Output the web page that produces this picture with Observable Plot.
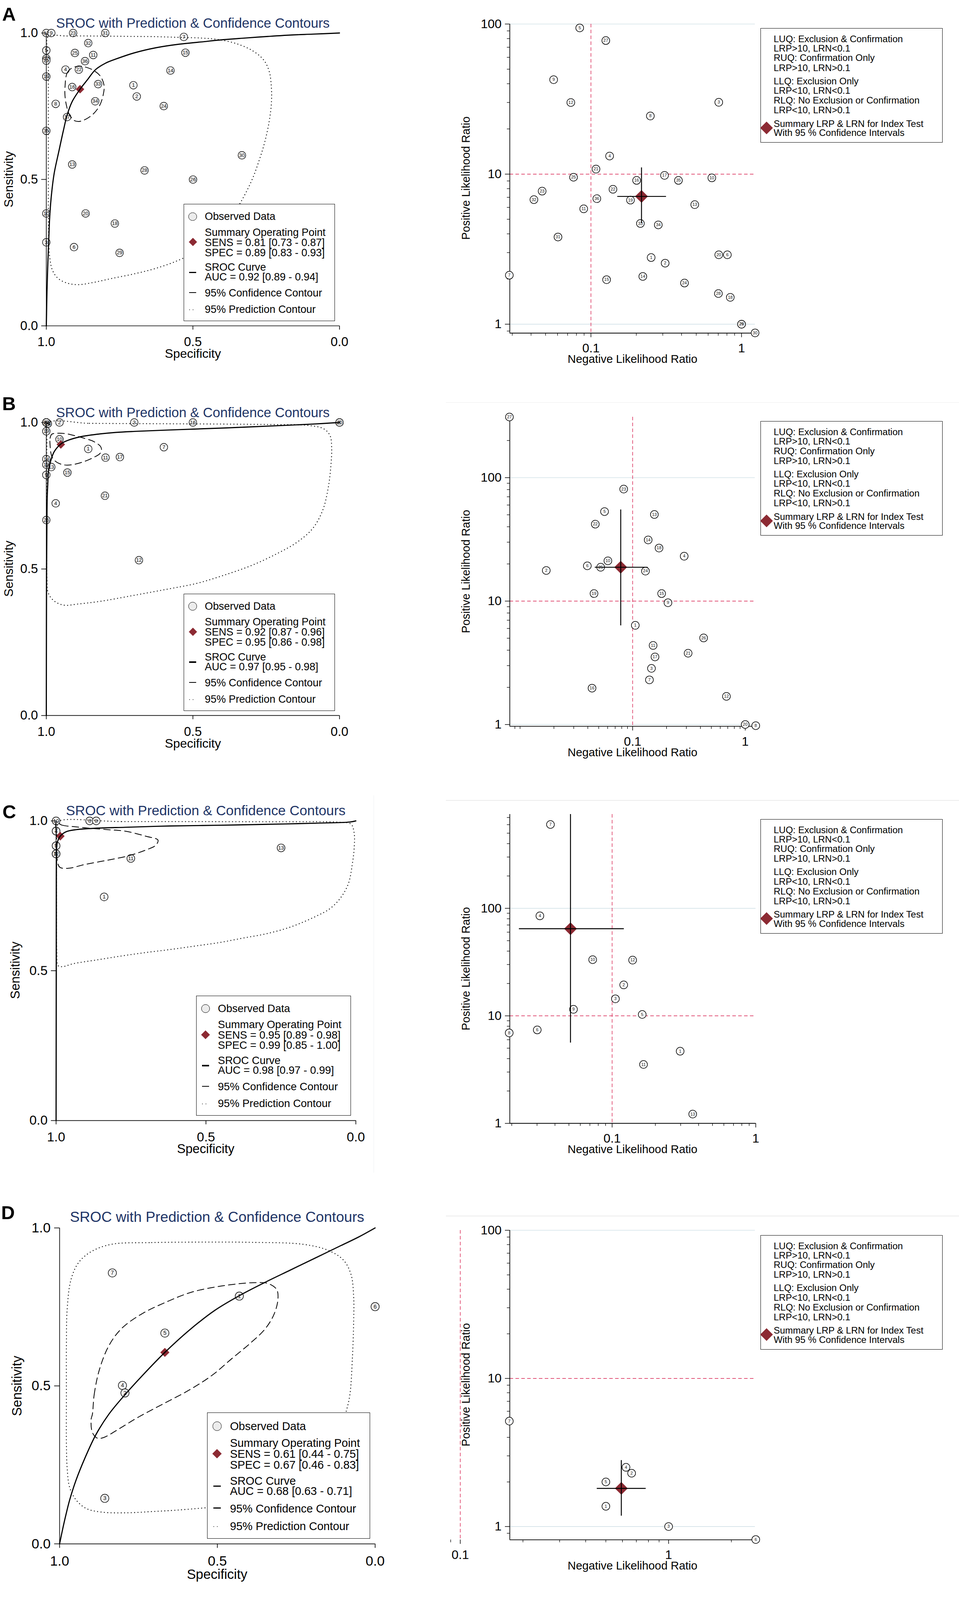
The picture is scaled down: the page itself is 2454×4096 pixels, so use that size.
<!DOCTYPE html>
<html><head><meta charset="utf-8">
<script src="https://cdn.jsdelivr.net/npm/d3@7"></script>
<script src="https://cdn.jsdelivr.net/npm/@observablehq/plot@0.6"></script>
<style>
html,body{margin:0;padding:0;background:#fff;}
#root{position:relative;width:2454px;height:4096px;overflow:hidden;background:#fff;font-family:"Liberation Sans",Arial,Helvetica,sans-serif;}
.t{position:absolute;white-space:nowrap;line-height:1;}
svg{overflow:visible;}
</style></head><body><div id="root"></div>
<script>
// ---------------- DATA ----------------
const srocTicks = [1, 0.5, 0];
const titleText = "SROC with Prediction & Confidence Contours";

// Panel A (left): [study, specificity, sensitivity]
const ptsA = [[12,1.0,1.0],[9,0.983,1.0],[23,0.9086,1.0],[31,0.799,1.0],[7,0.531,0.9867],[32,0.857,0.9656],[5,1.0,0.9406],[25,0.9025,0.932],[11,0.84,0.925],[15,0.5255,0.9328],[27,1.0,0.9127],[21,1.0,0.9057],[36,0.868,0.904],[4,0.9345,0.875],[22,0.889,0.875],[14,0.5765,0.872],[19,1.0,0.8514],[33,0.8233,0.8256],[1,0.703,0.8217],[16,0.9117,0.8155],[2,0.6915,0.7834],[34,0.8332,0.767],[8,0.968,0.758],[24,0.5994,0.7506],[17,0.9292,0.713],[35,1.0,0.666],[30,0.3328,0.5825],[13,0.9117,0.5512],[28,0.6649,0.5309],[26,0.4996,0.4996],[10,1.0,0.3839],[20,0.866,0.3839],[18,0.7662,0.3495],[3,1.0,0.2854],[6,0.9056,0.269],[29,0.75,0.2494]];
const sumA = [0.885, 0.808];
const curveA = [[1.0,0.0],[0.9992,0.0391],[0.9977,0.1173],[0.9954,0.1955],[0.9924,0.2737],[0.9886,0.369],[0.9825,0.4472],[0.9733,0.52],[0.957,0.597],[0.9415,0.668],[0.929,0.72],[0.912,0.7655],[0.885,0.808],[0.86,0.84],[0.8325,0.8746],[0.798,0.897],[0.763,0.911],[0.7007,0.932],[0.6245,0.95],[0.5484,0.9617],[0.4722,0.9695],[0.396,0.9773],[0.322,0.9828],[0.2437,0.9883],[0.1675,0.993],[0.0914,0.9961],[0.0,1.0]];
const confA = [[0.9363,0.8139],[0.9294,0.8624],[0.9138,0.8798],[0.8879,0.8866],[0.8671,0.8839],[0.8394,0.8728],[0.8152,0.852],[0.803,0.8209],[0.8065,0.7863],[0.8186,0.7516],[0.8394,0.7239],[0.8671,0.7048],[0.8879,0.698],[0.9052,0.7014],[0.9224,0.7239],[0.9311,0.7516],[0.9363,0.7863]];
const predA = [[0.994,0.9867],[0.9292,0.9898],[0.853,0.9898],[0.7768,0.9891],[0.7007,0.9883],[0.6245,0.9875],[0.5484,0.9851],[0.4722,0.9828],[0.4113,0.9773],[0.3503,0.9633],[0.297,0.9398],[0.259,0.9085],[0.2399,0.8694],[0.2323,0.8147],[0.2323,0.76],[0.2399,0.6974],[0.2551,0.6271],[0.2742,0.5645],[0.297,0.502],[0.3275,0.4394],[0.3656,0.3769],[0.4189,0.3143],[0.4798,0.2596],[0.5484,0.2244],[0.6245,0.197],[0.7007,0.1775],[0.7768,0.1619],[0.8378,0.1486],[0.8911,0.1407],[0.9292,0.1462],[0.9596,0.1619],[0.9787,0.1892],[0.9886,0.2361],[0.9925,0.3299],[0.993,0.4863],[0.993,0.6427],[0.993,0.7991],[0.993,0.9163]];
const legA = ["SENS = 0.81 [0.73 - 0.87]", "SPEC = 0.89 [0.83 - 0.93]", "AUC = 0.92 [0.89 - 0.94]"];

// Panel B (left)
const ptsB = [[27,1.0,1.0],[5,1.0,1.0],[6,1.0,1.0],[22,1.0,1.0],[25,0.995,0.996],[24,0.995,0.996],[23,1.0,1.0],[2,0.955,1.0],[3,0.7,1.0],[16,0.5,1.0],[8,0.0,1.0],[20,0.0,1.0],[19,1.0,0.97],[10,0.955,0.9426],[1,0.857,0.9097],[7,0.599,0.9156],[11,0.798,0.88],[17,0.749,0.882],[14,1.0,0.875],[18,1.0,0.856],[13,0.983,0.848],[15,0.928,0.829],[9,1.0,0.821],[21,0.8,0.75],[4,0.968,0.724],[26,1.0,0.667],[12,0.684,0.53]];
const sumB = [0.9505, 0.925];
const curveB = [[1,0],[0.9995,0.3],[0.999,0.5],[0.998,0.65],[0.997,0.74],[0.995,0.79],[0.9924,0.835],[0.9847,0.87],[0.9727,0.901],[0.95,0.927],[0.929,0.938],[0.8844,0.951],[0.8255,0.96],[0.763,0.966],[0.7,0.9695],[0.548,0.9755],[0.396,0.981],[0.2436,0.9875],[0.0913,0.9945],[0,1]];
const confB = [[0.9865,0.9148],[0.9872,0.946],[0.9813,0.9598],[0.9605,0.9633],[0.9328,0.9616],[0.9017,0.9546],[0.8705,0.946],[0.8394,0.9356],[0.8152,0.9183],[0.8117,0.9045],[0.8186,0.8923],[0.8394,0.8803],[0.8671,0.8681],[0.9017,0.8577],[0.9294,0.8543],[0.9502,0.8577],[0.9675,0.8664],[0.9795,0.8803],[0.9847,0.8975]];
const predB = [[0.9939,0.9977],[0.853,0.9969],[0.7007,0.9961],[0.5484,0.9953],[0.396,0.9945],[0.2437,0.993],[0.1066,0.9898],[0.0533,0.9781],[0.032,0.9547],[0.0267,0.9117],[0.029,0.857],[0.0381,0.7789],[0.0571,0.7008],[0.0914,0.6383],[0.1447,0.5914],[0.2133,0.5523],[0.297,0.5133],[0.396,0.4781],[0.4874,0.4508],[0.5864,0.4313],[0.7007,0.4102],[0.8149,0.3898],[0.8911,0.3805],[0.9406,0.3766],[0.9749,0.3922],[0.9939,0.4195],[0.9977,0.4664],[0.9985,0.6227],[0.9985,0.7789],[0.9977,0.9352]];
const legB = ["SENS = 0.92 [0.87 - 0.96]", "SPEC = 0.95 [0.86 - 0.98]", "AUC = 0.97 [0.95 - 0.98]"];

// Panel C (left)
const ptsC = [[5,1.0,0.89],[12,1.0,0.89],[2,1.0,0.89],[3,1.0,0.917],[9,1.0,0.917],[4,1.0,0.966],[7,1.0,0.966],[10,1.0,1.0],[6,0.888,1.0],[8,0.866,1.0],[11,0.7506,0.8747],[1,0.8397,0.7464],[13,0.2494,0.9099]];
const sumC = [0.986, 0.949];
const curveC = [[1,0],[0.9992,0.5],[0.999,0.8],[0.9985,0.87],[0.9966,0.9252],[0.9865,0.9488],[0.9662,0.964],[0.9324,0.9709],[0.8917,0.9742],[0.8443,0.9766],[0.7699,0.9787],[0.6195,0.9831],[0.4576,0.9855],[0.2957,0.9885],[0.1337,0.9924],[0.0203,0.9962],[0,1]];
const confC = [[0.9992,0.9962],[0.9814,0.9861],[0.9425,0.981],[0.8917,0.9759],[0.8277,0.9708],[0.7698,0.9658],[0.7005,0.9488],[0.66,0.9358],[0.6681,0.9182],[0.7005,0.9029],[0.7572,0.8838],[0.83,0.8686],[0.9029,0.8548],[0.9596,0.8418],[0.9879,0.8456],[0.996,0.8686],[0.9984,0.9069],[0.9992,0.9526]];
const predC = [[0.9919,0.9985],[0.7814,0.9977],[0.5385,0.9977],[0.2955,0.9969],[0.0526,0.9954],[0.0162,0.9893],[0.0057,0.9603],[0.0057,0.9068],[0.0121,0.8533],[0.0243,0.7922],[0.0486,0.7464],[0.085,0.7082],[0.1336,0.6814],[0.2146,0.6471],[0.2955,0.6241],[0.3765,0.6089],[0.4575,0.5936],[0.5385,0.5821],[0.6194,0.5707],[0.7004,0.5607],[0.7814,0.5493],[0.8623,0.5363],[0.9433,0.5233],[0.9798,0.5134],[0.9935,0.5172],[0.9976,0.563],[0.9984,0.7158],[0.9984,0.8686],[0.996,0.9832]];
const legC = ["SENS = 0.95 [0.89 - 0.98]", "SPEC = 0.99 [0.85 - 1.00]", "AUC = 0.98 [0.97 - 0.99]"];

// Panel D (left)
const ptsD = [[7,0.8328,0.8576],[1,0.4304,0.7841],[6,0.0,0.7508],[5,0.6664,0.6672],[4,0.8008,0.5015],[2,0.7928,0.4776],[3,0.8568,0.144]];
const sumD = [0.6664, 0.606];
const curveD = [[1,0],[0.992,0.0387],[0.9816,0.0851],[0.968,0.1393],[0.948,0.2012],[0.92,0.2709],[0.8856,0.3444],[0.844,0.4102],[0.7928,0.4721],[0.74,0.5302],[0.6664,0.606],[0.588,0.6772],[0.508,0.7392],[0.4304,0.7856],[0.348,0.8282],[0.268,0.8669],[0.188,0.9056],[0.108,0.9443],[0.052,0.9714],[0,1]];
const confD = [[0.896,0.4102],[0.8904,0.4721],[0.8744,0.5495],[0.844,0.6269],[0.804,0.6811],[0.74,0.7276],[0.66,0.7663],[0.58,0.7972],[0.484,0.8166],[0.388,0.8266],[0.34,0.8243],[0.312,0.805],[0.308,0.774],[0.32,0.7276],[0.348,0.6811],[0.396,0.6347],[0.452,0.5882],[0.516,0.5341],[0.588,0.4876],[0.668,0.445],[0.748,0.4025],[0.812,0.3638],[0.86,0.3367],[0.88,0.3344],[0.896,0.3522],[0.9,0.3947]];
const predD = [[0.836,0.9481],[0.708,0.9536],[0.548,0.9551],[0.388,0.9543],[0.228,0.9481],[0.148,0.9288],[0.1,0.8978],[0.076,0.8514],[0.068,0.7817],[0.068,0.7043],[0.072,0.5882],[0.08,0.4721],[0.092,0.418],[0.124,0.3173],[0.188,0.2245],[0.308,0.1548],[0.428,0.1238],[0.532,0.1146],[0.628,0.1068],[0.708,0.1022],[0.788,0.0983],[0.868,0.1006],[0.916,0.1122],[0.948,0.1393],[0.968,0.178],[0.976,0.2399],[0.9784,0.3173],[0.9784,0.4721],[0.9784,0.6269],[0.976,0.743],[0.964,0.8359],[0.94,0.8901],[0.9,0.9249]];
const legD = ["SENS = 0.61 [0.44 - 0.75]", "SPEC = 0.67 [0.46 - 0.83]", "AUC = 0.68 [0.63 - 0.71]"];

// Likelihood-ratio scatter: [study, LRN, LRP]
const lrA = [[5,0.0842,94.2],[27,0.1255,77.6],[9,0.0565,42.6],[12,0.0735,30.0],[3,0.706,30.1],[8,0.248,24.4],[4,0.133,13.2],[21,0.108,10.8],[25,0.0766,9.53],[17,0.308,9.81],[16,0.201,9.08],[35,0.381,9.08],[10,0.635,9.44],[22,0.14,7.92],[23,0.0474,7.7],[32,0.0418,6.76],[36,0.1094,6.86],[19,0.183,6.71],[13,0.489,6.26],[11,0.0895,5.87],[33,0.213,4.69],[34,0.28,4.59],[31,0.0604,3.81],[1,0.251,2.78],[2,0.311,2.55],[20,0.706,2.9],[6,0.805,2.9],[7,0.0287,2.12],[15,0.127,1.98],[14,0.221,2.08],[24,0.418,1.88],[28,0.702,1.6],[18,0.842,1.51],[29,1.0,1.0],[26,1.0,1.0],[30,1.23,0.875]];
const lrSumA = [0.2166, 7.10, 0.150, 0.316, 4.71, 11.05]; // LRN, LRP, LRN lo, LRN hi, LRP lo, LRP hi
const lrB = [[27,0.00805,310],[23,0.0833,80.8],[5,0.0563,53.1],[13,0.156,50.3],[22,0.0466,42.0],[14,0.1374,31.3],[18,0.1716,26.9],[4,0.287,23.1],[10,0.0603,21.2],[6,0.0396,19.3],[25,0.052,18.8],[2,0.0171,17.7],[24,0.13,17.5],[19,0.0454,11.5],[15,0.181,11.5],[9,0.206,9.7],[1,0.1056,6.36],[26,0.427,5.03],[11,0.152,4.37],[21,0.311,3.78],[17,0.158,3.53],[3,0.147,2.85],[7,0.141,2.3],[16,0.0436,1.97],[12,0.681,1.69],[20,1.0,1.0],[8,1.24,0.979]];
const lrSumB = [0.0784, 18.8, 0.0463, 0.1364, 6.33, 55.0];
const lrC = [[7,0.0372,602],[4,0.0314,85.1],[10,0.0732,33.3],[12,0.1389,33.0],[2,0.1204,19.4],[3,0.1054,14.4],[9,0.0538,11.5],[5,0.162,10.3],[6,0.0301,7.4],[8,0.0192,6.94],[1,0.2976,4.69],[11,0.1654,3.53],[13,0.364,1.22]];
const lrSumC = [0.0513, 64.6, 0.0225, 0.121, 5.62, 750];
const lrD = [[7,0.172,5.15],[4,0.6245,2.51],[2,0.6645,2.29],[5,0.5,2.0],[1,0.5,1.37],[3,1.0,1.0],[6,2.62,0.817]];
const lrSumD = [0.593, 1.81, 0.453, 0.778, 1.18, 2.80];

const lrMajorX = [0.1, 1];
const lrMajorY = [1, 10, 100];
const lrGrid = [1, 100];
const lrRefX = [0.1], lrRefY = [10];
const lrLegend = [["LUQ: Exclusion & Confirmation",35.3],["LRP>10, LRN<0.1",66.2],["RUQ: Confirmation Only",97.8],["LRP>10, LRN>0.1",130.1],["LLQ: Exclusion Only",173.8],["LRP<10, LRN<0.1",205.4],["RLQ: No Exclusion or Confirmation",237],["LRP<10, LRN>0.1",269.3],["Summary LRP & LRN for Index Test",313.7],["With 95 % Confidence Intervals",343.8]];

// ---------------- RENDERING ----------------
const S = 2454 / 3150;
const root = document.getElementById("root");
const NAVY = "#1e3466", RED = "#d8204f", MAROON = "#8c2a33", GRID = "#d3e2e8";
const FONT = '"Liberation Sans", Arial, Helvetica, sans-serif';

function txt(s, x, y, size, o = {}) {
  const d = document.createElement("div");
  d.className = "t";
  d.textContent = s;
  d.style.left = (x * S) + "px";
  d.style.top = (y * S) + "px";
  d.style.fontSize = (size * S) + "px";
  d.style.color = o.color || "#000";
  if (o.weight) d.style.fontWeight = o.weight;
  const tx = o.anchor === "start" ? "0%" : o.anchor === "end" ? "-100%" : "-50%";
  d.style.transform = `translate(${tx},-50%)` + (o.rotate ? ` rotate(${o.rotate}deg)` : "");
  root.appendChild(d);
}
function rect(x, y, w, h, o = {}) {
  const d = document.createElement("div");
  d.style.position = "absolute";
  d.style.left = (x * S) + "px"; d.style.top = (y * S) + "px";
  d.style.width = (w * S) + "px"; d.style.height = (h * S) + "px";
  d.style.boxSizing = "border-box";
  if (o.border) d.style.border = o.border;
  if (o.bg) d.style.background = o.bg;
  if (o.radius) d.style.borderRadius = o.radius;
  if (o.rotate) d.style.transform = `rotate(${o.rotate}deg)`;
  root.appendChild(d);
  return d;
}
function diamondSym(cx, cy, diag) {
  const side = diag / Math.SQRT2;
  rect(cx - side / 2, cy - side / 2, side, side, {bg: MAROON, rotate: 45});
}
function place(el, x, y) {
  el.style.position = "absolute";
  el.style.left = x + "px";
  el.style.top = y + "px";
  root.appendChild(el);
}
const xy = (a) => a.map(([x, y]) => ({x, y}));

function leftPanel(c) {
  const k = (c.x1 - c.x0) / 963;
  const W = (c.x1 - c.x0) * S, H = (c.y1 - c.y0) * S;
  const mL = 110, mR = 30, mT = 30, mB = 90;
  const pts = c.pts.map(([id, x, y]) => ({id: String(id), x, y}));
  const fs = 42 * k * S;
  const svg = Plot.plot({
    width: W + mL + mR, height: H + mT + mB,
    marginLeft: mL, marginRight: mR, marginTop: mT, marginBottom: mB,
    x: {type: "linear", domain: [1, 0], axis: null},
    y: {type: "linear", domain: [0, 1], axis: null},
    style: {fontFamily: FONT, fontSize: fs + "px", color: "#000", background: "transparent", overflow: "visible"},
    marks: [
      Plot.dot(pts, {x: "x", y: "y", r: 9.8 * k, fill: "#f3f3f3", stroke: "#000", strokeWidth: 1.4}),
      Plot.text(pts, {x: "x", y: "y", text: "id", fontSize: 13.2 * k, fill: "#111"}),
      Plot.dot([c.summary], {x: d => d[0], y: d => d[1], symbol: "diamond2", r: 9.8 * k, fill: MAROON}),
      Plot.line(xy(c.pred), {x: "x", y: "y", curve: "catmull-rom-closed", stroke: "#111", strokeWidth: 2.6, strokeDasharray: "0.1,8.5", strokeLinecap: "round"}),
      Plot.line(xy(c.conf), {x: "x", y: "y", curve: "catmull-rom-closed", stroke: "#000", strokeWidth: 2.0, strokeDasharray: "17,10"}),
      Plot.line(xy(c.curve), {x: "x", y: "y", curve: "catmull-rom", stroke: "#000", strokeWidth: 2.9}),
      Plot.ruleX([1], {stroke: "#000", strokeWidth: 1.7}),
      Plot.ruleY([0], {stroke: "#000", strokeWidth: 1.7}),
      Plot.axisX({anchor: "bottom", ticks: srocTicks, tickFormat: d3.format(".1f"), tickSize: 10 * k, tickPadding: 18.9 * k, fontSize: fs, label: null, strokeWidth: 1.7}),
      Plot.axisY({anchor: "left", ticks: srocTicks, tickFormat: d3.format(".1f"), tickSize: 12.5 * k, tickPadding: 8.8 * k, fontSize: fs, label: null, strokeWidth: 1.7})
    ]
  });
  place(svg, c.x0 * S - mL, c.y0 * S - mT);

  const cx = (c.x0 + c.x1) / 2, cy = (c.y0 + c.y1) / 2;
  txt(titleText, cx, c.y0 - 32.4 * k, 44.3 * k, {color: NAVY});
  txt("Specificity", cx, c.y1 + 92.6 * k, 41 * k);
  txt("Sensitivity", Math.max(c.x0 - 130 * k, 30), cy, 41 * k, {rotate: -90});
  txt(c.letter, c.lx, c.ly, 62, {weight: 700, anchor: "start"});

  // legend
  const bx = c.x0 + 0.4683 * (c.x1 - c.x0), by = c.y0 + 0.5844 * (c.y1 - c.y0);
  rect(bx, by, 497 * k, 385 * k, {bg: "#fff", border: `${Math.max(1.2, 2 * S)}px solid #000`});
  const sx = bx + 30.3 * k;
  rect(sx - 14 * k, by + 41.7 * k - 14 * k, 28 * k, 28 * k, {bg: "#ececec", border: `${2.2 * S}px solid #000`, radius: "50%"});
  diamondSym(sx, by + 126 * k, 28 * k);
  rect(sx - 11.7 * k, by + 225 * k - 2.2 * k, 23 * k, 4.4 * k, {bg: "#000"});
  rect(sx - 11.7 * k, by + 291.7 * k - 1.3 * k, 23 * k, 2.6 * k, {bg: "#000"});
  rect(sx - 11.7 * k, by + 348 * k - 1.3 * k, 2.8 * k, 2.8 * k, {bg: "#222", radius: "50%"});
  rect(sx - 0.5 * k, by + 348 * k - 1.3 * k, 2.8 * k, 2.8 * k, {bg: "#222", radius: "50%"});
  const tx = bx + 69.7 * k, fz = 34.5 * k;
  const lines = [["Observed Data", 41.7], ["Summary Operating Point", 93.3], [c.leg[0], 126.7], [c.leg[1], 160], ["SROC Curve", 208.3], [c.leg[2], 240], ["95% Confidence Contour", 293.3], ["95% Prediction Contour", 346.7]];
  for (const [s, dy] of lines) txt(s, tx, by + dy * k, fz, {anchor: "start"});
}

function decadeTicks(lo, hi) {
  const out = [];
  for (let e = -3; e <= 3; e++) for (let m = 1; m <= 9; m++) {
    const v = +(m * Math.pow(10, e)).toPrecision(3);
    if (v >= lo * 0.999 && v <= hi * 1.001) out.push(v);
  }
  return out;
}

function rightPanel(c) {
  const W = (c.xpx[1] - c.xpx[0]) * S, H = (c.ypx[0] - c.ypx[1]) * S;
  const mL = 210, mR = 30, mT = 30, mB = 90;
  const pts = c.pts.map(([id, x, y]) => ({id: String(id), x, y}));
  const s = c.sum;
  const sumRow = [{x: s[0], y: s[1], xlo: s[2], xhi: s[3], ylo: s[4], yhi: s[5]}];
  const tr = c.tickRange || c.xd;
  const xMajor = lrMajorX.filter(v => v >= tr[0] && v <= tr[1] * 1.001);
  const xMinor = decadeTicks(tr[0], tr[1]).filter(v => !xMajor.includes(v));
  const yMajor = lrMajorY.filter(v => v >= c.yd[0] && v <= c.yd[1] * 1.001);
  const yMinor = decadeTicks(c.yd[0], c.yd[1]).filter(v => !yMajor.includes(v));
  const grid = lrGrid.filter(v => v >= c.yd[0] && v <= c.yd[1] * 1.001);
  const svg = Plot.plot({
    width: W + mL + mR, height: H + mT + mB,
    marginLeft: mL, marginRight: mR, marginTop: mT, marginBottom: mB,
    x: {type: "log", domain: c.xd, axis: null},
    y: {type: "log", domain: c.yd, axis: null},
    style: {fontFamily: FONT, fontSize: "32px", color: "#000", background: "transparent", overflow: "visible"},
    marks: [
      Plot.ruleY(grid, {stroke: GRID, strokeWidth: 1.7}),
      Plot.ruleX(lrRefX, {stroke: RED, strokeWidth: 1.4, strokeDasharray: "9,6"}),
      Plot.ruleY(lrRefY, {stroke: RED, strokeWidth: 1.6, strokeDasharray: "9,6"}),
      Plot.axisY({anchor: "left", ticks: yMinor, tickSize: 7, tickFormat: () => "", label: null, strokeWidth: 1.3}),
      Plot.axisY({anchor: "left", ticks: yMajor, tickSize: 12, tickPadding: 9, tickFormat: d => String(d), fontSize: 32, label: null, strokeWidth: 1.5}),
      Plot.axisX({anchor: "bottom", ticks: xMinor, tickSize: 7, tickFormat: () => "", label: null, strokeWidth: 1.3}),
      Plot.axisX({anchor: "bottom", ticks: xMajor, tickSize: 11, tickPadding: 15.8, tickFormat: d => String(d), fontSize: 32, label: null, strokeWidth: 1.5}),
      Plot.ruleX([c.xd[0]], {stroke: "#000", strokeWidth: 1.8}),
      Plot.ruleY([c.yd[0]], {stroke: "#000", strokeWidth: 1.8}),
      Plot.dot(pts, {x: "x", y: "y", r: 10, fill: "#fff", stroke: "#000", strokeWidth: 1.5}),
      Plot.text(pts, {x: "x", y: "y", text: "id", fontSize: 11, fill: "#111"}),
      Plot.dot(sumRow, {x: "x", y: "y", symbol: "diamond2", r: 14.8, fill: MAROON}),
      Plot.ruleY(sumRow, {y: "y", x1: "xlo", x2: "xhi", stroke: "#000", strokeWidth: 2.4}),
      Plot.ruleX(sumRow, {x: "x", y1: "ylo", y2: "yhi", stroke: "#000", strokeWidth: 2.4})
    ]
  });
  place(svg, c.xpx[0] * S - mL, c.ypx[1] * S - mT);

  txt("Positive Likelihood Ratio", 1530.7, (c.ypx[0] + c.ypx[1]) / 2, 37.2, {rotate: -90});
  txt("Negative Likelihood Ratio", 2077.7, c.ypx[0] + 86, 37.6);

  const T = c.legTop;
  rect(2498, T, 598, 376, {bg: "#fff", border: `${Math.max(1.2, 2 * S)}px solid #000`});
  for (const [t, dy] of lrLegend) txt(t, 2541.3, T + dy, 30.8, {anchor: "start"});
  diamondSym(2517.5, T + 327.3, 42);
}

// faint panel frames
for (const y of [1322.6, 2630, 3995.6]) rect(1465, y - 1, 1685, 2, {bg: "#ececec"});
rect(1226.5, 2614, 2, 1240, {bg: "#eef1f3"});

leftPanel({x0: 152, x1: 1115, y0: 107.6, y1: 1070, pts: ptsA, summary: sumA, curve: curveA, conf: confA, pred: predA, leg: legA, letter: "A", lx: 7, ly: 46});
leftPanel({x0: 152, x1: 1115, y0: 1388, y1: 2351, pts: ptsB, summary: sumB, curve: curveB, conf: confB, pred: predB, leg: legB, letter: "B", lx: 7, ly: 1326});
leftPanel({x0: 183.4, x1: 1168, y0: 2696.3, y1: 3681, pts: ptsC, summary: sumC, curve: curveC, conf: confC, pred: predC, leg: legC, letter: "C", lx: 8, ly: 2667.5});
leftPanel({x0: 194.9, x1: 1231.3, y0: 4034.8, y1: 5073, pts: ptsD, summary: sumD, curve: curveD, conf: confD, pred: predD, leg: legD, letter: "D", lx: 4, ly: 3984});

rightPanel({xd: [0.0289, 1.23], xpx: [1673.9, 2479.6], yd: [0.872, 100], ypx: [1093.4, 77.7], pts: lrA, sum: lrSumA, legTop: 92.7});
rightPanel({xd: [0.00811, 1.22], xpx: [1673.7, 2479], yd: [0.966, 310], ypx: [2385.8, 1369.2], pts: lrB, sum: lrSumB, legTop: 1384.3});
rightPanel({xd: [0.01938, 1.0], xpx: [1673.8, 2481.7], yd: [1, 750], ypx: [3691, 2675.3], pts: lrC, sum: lrSumC, legTop: 2691.8});
rightPanel({xd: [0.1729, 2.6], xpx: [1673.7, 2479.4], yd: [0.814, 100], ypx: [5059.2, 4042.2], tickRange: [0.085, 2.6], pts: lrD, sum: lrSumD, legTop: 4058.9});
</script></body></html>
